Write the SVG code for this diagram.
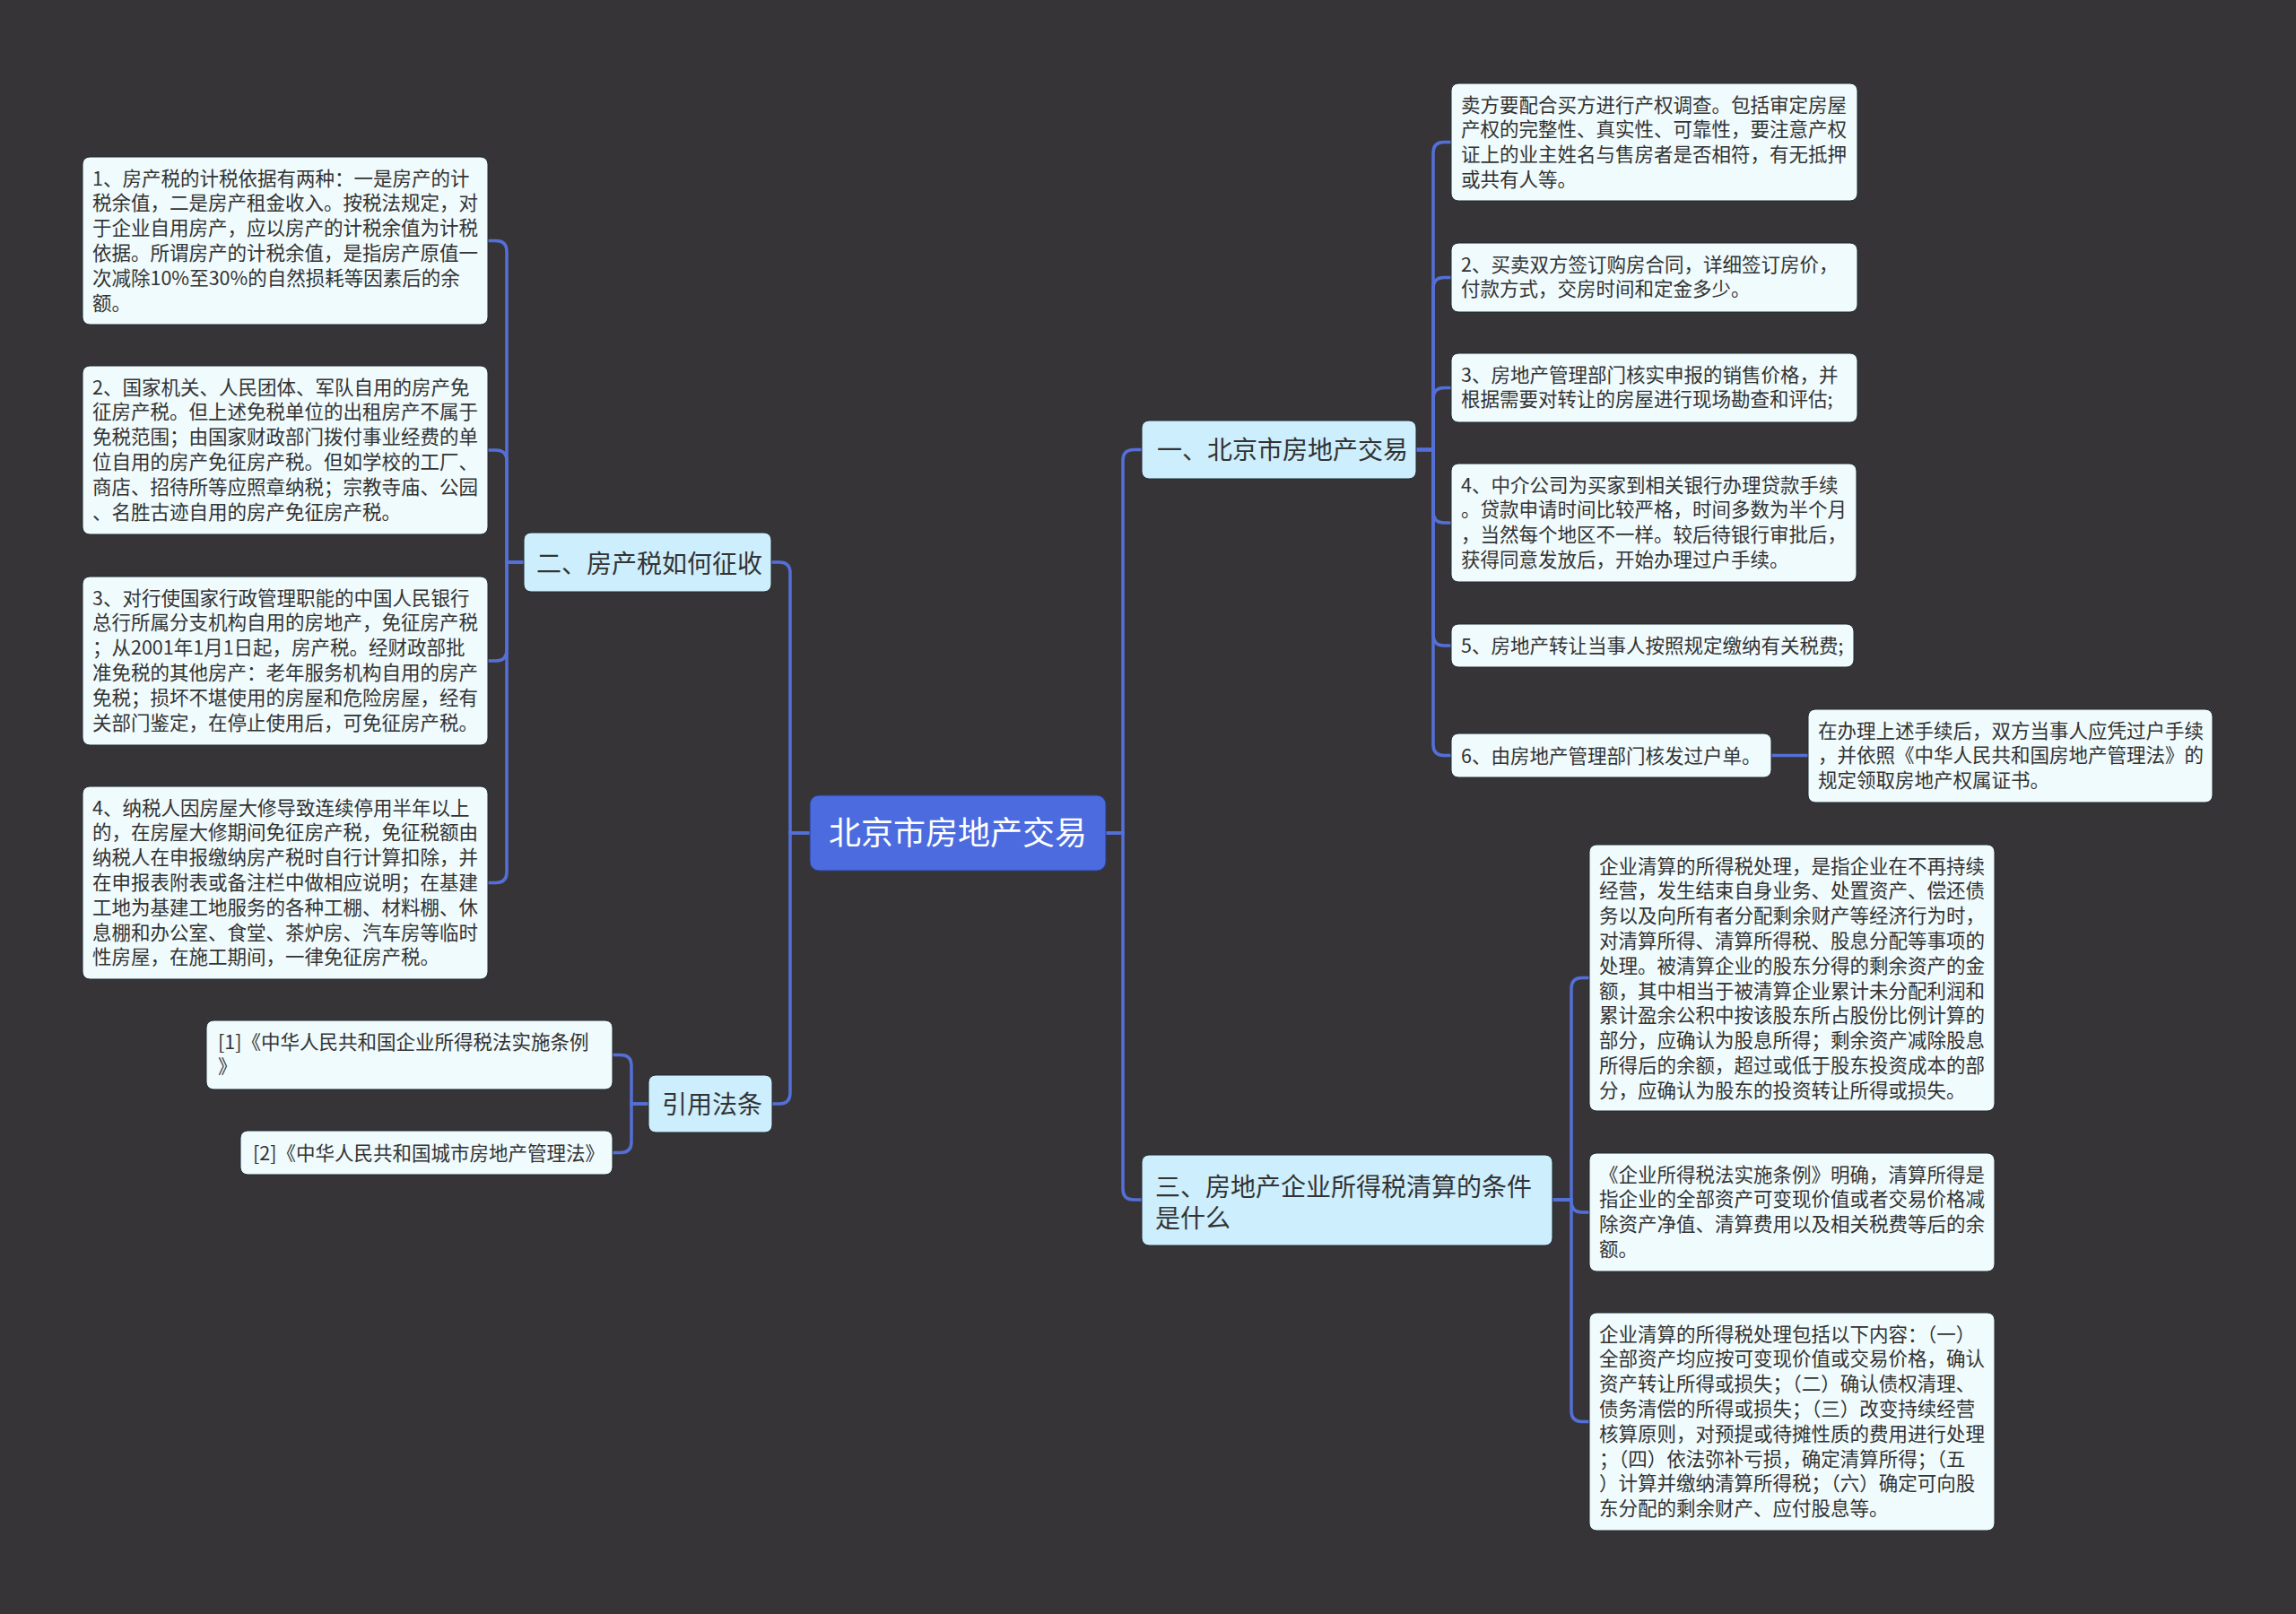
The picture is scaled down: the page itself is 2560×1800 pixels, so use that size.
<svg xmlns="http://www.w3.org/2000/svg" width="2560" height="1800" viewBox="0 0 2560 1800">
<style>
.bg{fill:#363436}
.conn{fill:none;stroke:#5470d8;stroke-width:3.5;stroke-linecap:round}
.root rect{fill:#4b6bdf;stroke:#2b3f8a;stroke-width:1}
.br rect{fill:#cdeefc;stroke:#1e2a33;stroke-width:1}
.lf rect{fill:#f0fbfd;stroke:#1e2a33;stroke-width:1}
text{font-family:"Noto Sans CJK SC","Noto Sans",sans-serif;fill:#333333}
.lf text{font-size:21.5px}
.br text{font-size:28px}
.root text{font-size:36px;fill:#ffffff}
</style>
<rect class="bg" x="0" y="0" width="2560" height="1800"/>
<g id="connectors">
<path class="conn" d="M1233,929 H1252 V513.5 Q1252,501.5 1264,501.5 H1273"/>
<path class="conn" d="M1233,929 H1252 V1326 Q1252,1338 1264,1338 H1273"/>
<path class="conn" d="M903,929 H881 V639 Q881,627 869,627 H860"/>
<path class="conn" d="M903,929 H881 V1219 Q881,1231 869,1231 H861"/>
<path class="conn" d="M584,627 H565 V280.5 Q565,268.5 553,268.5 H544"/>
<path class="conn" d="M584,627 H565 V514 Q565,502 553,502 H544"/>
<path class="conn" d="M584,627 H565 V725 Q565,737 553,737 H544"/>
<path class="conn" d="M584,627 H565 V972.5 Q565,984.5 553,984.5 H544"/>
<path class="conn" d="M1579,501.5 H1598 V170.5 Q1598,158.5 1610,158.5 H1618"/>
<path class="conn" d="M1579,501.5 H1598 V321.5 Q1598,309.5 1610,309.5 H1618"/>
<path class="conn" d="M1579,501.5 H1598 V444.5 Q1598,432.5 1610,432.5 H1618"/>
<path class="conn" d="M1579,501.5 H1598 V571 Q1598,583 1610,583 H1618"/>
<path class="conn" d="M1579,501.5 H1598 V708 Q1598,720 1610,720 H1618"/>
<path class="conn" d="M1579,501.5 H1598 V830.5 Q1598,842.5 1610,842.5 H1618"/>
<path class="conn" d="M1975,842.5 H2016"/>
<path class="conn" d="M1731,1338 H1752 V1102.5 Q1752,1090.5 1764,1090.5 H1772"/>
<path class="conn" d="M1731,1338 H1752 V1340 Q1752,1352 1764,1352 H1772"/>
<path class="conn" d="M1731,1338 H1752 V1573.5 Q1752,1585.5 1764,1585.5 H1772"/>
<path class="conn" d="M723,1231 H704 V1188.5 Q704,1176.5 692,1176.5 H683"/>
<path class="conn" d="M723,1231 H704 V1273.5 Q704,1285.5 692,1285.5 H683"/>
</g>
<g id="root" class="root">
<rect x="903" y="887" width="330" height="84" rx="10"/>
<text x="1068" y="941.5" text-anchor="middle">北京市房地产交易</text>
</g>
<g id="b1" class="br">
<rect x="1273" y="469" width="306" height="65" rx="8"/>
<text x="1290" y="512">一、北京市房地产交易</text>
</g>
<g id="b2" class="br">
<rect x="584" y="594" width="276" height="66" rx="8"/>
<text x="598" y="638.5">二、房产税如何征收</text>
</g>
<g id="b3" class="br">
<rect x="1273" y="1288" width="458" height="101" rx="8"/>
<text x="1288"><tspan x="1288" y="1333.5">三、房地产企业所得税清算的条件</tspan><tspan x="1288" y="1369">是什么</tspan></text>
</g>
<g id="b4" class="br">
<rect x="723" y="1199" width="138" height="64" rx="8"/>
<text x="738" y="1242">引用法条</text>
</g>
<g id="l1" class="lf">
<rect x="92" y="175" width="452" height="187" rx="8"/>
<text><tspan x="103" y="206.5">1、房产税的计税依据有两种：一是房产的计</tspan><tspan x="103" y="234.3">税余值，二是房产租金收入。按税法规定，对</tspan><tspan x="103" y="262.1">于企业自用房产，应以房产的计税余值为计税</tspan><tspan x="103" y="289.9">依据。所谓房产的计税余值，是指房产原值一</tspan><tspan x="103" y="317.7">次减除10%至30%的自然损耗等因素后的余</tspan><tspan x="103" y="345.5">额。</tspan></text>
</g>
<g id="l2" class="lf">
<rect x="92" y="408" width="452" height="188" rx="8"/>
<text><tspan x="103" y="439.5">2、国家机关、人民团体、军队自用的房产免</tspan><tspan x="103" y="467.3">征房产税。但上述免税单位的出租房产不属于</tspan><tspan x="103" y="495.1">免税范围；由国家财政部门拨付事业经费的单</tspan><tspan x="103" y="522.9">位自用的房产免征房产税。但如学校的工厂、</tspan><tspan x="103" y="550.7">商店、招待所等应照章纳税；宗教寺庙、公园</tspan><tspan x="103" y="578.5">、名胜古迹自用的房产免征房产税。</tspan></text>
</g>
<g id="l3" class="lf">
<rect x="92" y="643" width="452" height="188" rx="8"/>
<text><tspan x="103" y="674.5">3、对行使国家行政管理职能的中国人民银行</tspan><tspan x="103" y="702.3">总行所属分支机构自用的房地产，免征房产税</tspan><tspan x="103" y="730.1">；从2001年1月1日起，房产税。经财政部批</tspan><tspan x="103" y="757.9">准免税的其他房产：老年服务机构自用的房产</tspan><tspan x="103" y="785.7">免税；损坏不堪使用的房屋和危险房屋，经有</tspan><tspan x="103" y="813.5">关部门鉴定，在停止使用后，可免征房产税。</tspan></text>
</g>
<g id="l4" class="lf">
<rect x="92" y="877" width="452" height="215" rx="8"/>
<text><tspan x="103" y="908.5">4、纳税人因房屋大修导致连续停用半年以上</tspan><tspan x="103" y="936.3">的，在房屋大修期间免征房产税，免征税额由</tspan><tspan x="103" y="964.1">纳税人在申报缴纳房产税时自行计算扣除，并</tspan><tspan x="103" y="991.9">在申报表附表或备注栏中做相应说明；在基建</tspan><tspan x="103" y="1019.7">工地为基建工地服务的各种工棚、材料棚、休</tspan><tspan x="103" y="1047.5">息棚和办公室、食堂、茶炉房、汽车房等临时</tspan><tspan x="103" y="1075.3">性房屋，在施工期间，一律免征房产税。</tspan></text>
</g>
<g id="r1" class="lf">
<rect x="1618" y="93" width="453" height="131" rx="8"/>
<text><tspan x="1629" y="124.5">卖方要配合买方进行产权调查。包括审定房屋</tspan><tspan x="1629" y="152.3">产权的完整性、真实性、可靠性，要注意产权</tspan><tspan x="1629" y="180.1">证上的业主姓名与售房者是否相符，有无抵押</tspan><tspan x="1629" y="207.9">或共有人等。</tspan></text>
</g>
<g id="r2" class="lf">
<rect x="1618" y="271" width="453" height="77" rx="8"/>
<text><tspan x="1629" y="302.5">2、买卖双方签订购房合同，详细签订房价，</tspan><tspan x="1629" y="330.3">付款方式，交房时间和定金多少。</tspan></text>
</g>
<g id="r3" class="lf">
<rect x="1618" y="394" width="453" height="77" rx="8"/>
<text><tspan x="1629" y="425.5">3、房地产管理部门核实申报的销售价格，并</tspan><tspan x="1629" y="453.3">根据需要对转让的房屋进行现场勘查和评估;</tspan></text>
</g>
<g id="r4" class="lf">
<rect x="1618" y="517" width="452" height="132" rx="8"/>
<text><tspan x="1629" y="548.5">4、中介公司为买家到相关银行办理贷款手续</tspan><tspan x="1629" y="576.3">。贷款申请时间比较严格，时间多数为半个月</tspan><tspan x="1629" y="604.1">，当然每个地区不一样。较后待银行审批后，</tspan><tspan x="1629" y="631.9">获得同意发放后，开始办理过户手续。</tspan></text>
</g>
<g id="r5" class="lf">
<rect x="1618" y="696" width="449" height="48" rx="8"/>
<text x="1629" y="728">5、房地产转让当事人按照规定缴纳有关税费;</text>
</g>
<g id="r6" class="lf">
<rect x="1618" y="818" width="357" height="49" rx="8"/>
<text x="1629" y="850.5">6、由房地产管理部门核发过户单。</text>
</g>
<g id="r6a" class="lf">
<rect x="2016" y="791" width="451" height="104" rx="8"/>
<text><tspan x="2027" y="822.5">在办理上述手续后，双方当事人应凭过户手续</tspan><tspan x="2027" y="850.3">，并依照《中华人民共和国房地产管理法》的</tspan><tspan x="2027" y="878.1">规定领取房地产权属证书。</tspan></text>
</g>
<g id="s1" class="lf">
<rect x="1772" y="942" width="452" height="297" rx="8"/>
<text><tspan x="1783" y="973.5">企业清算的所得税处理，是指企业在不再持续</tspan><tspan x="1783" y="1001.3">经营，发生结束自身业务、处置资产、偿还债</tspan><tspan x="1783" y="1029.1">务以及向所有者分配剩余财产等经济行为时，</tspan><tspan x="1783" y="1056.9">对清算所得、清算所得税、股息分配等事项的</tspan><tspan x="1783" y="1084.7">处理。被清算企业的股东分得的剩余资产的金</tspan><tspan x="1783" y="1112.5">额，其中相当于被清算企业累计未分配利润和</tspan><tspan x="1783" y="1140.3">累计盈余公积中按该股东所占股份比例计算的</tspan><tspan x="1783" y="1168.1">部分，应确认为股息所得；剩余资产减除股息</tspan><tspan x="1783" y="1195.9">所得后的余额，超过或低于股东投资成本的部</tspan><tspan x="1783" y="1223.7">分，应确认为股东的投资转让所得或损失。</tspan></text>
</g>
<g id="s2" class="lf">
<rect x="1772" y="1286" width="452" height="132" rx="8"/>
<text><tspan x="1783" y="1317.5">《企业所得税法实施条例》明确，清算所得是</tspan><tspan x="1783" y="1345.3">指企业的全部资产可变现价值或者交易价格减</tspan><tspan x="1783" y="1373.1">除资产净值、清算费用以及相关税费等后的余</tspan><tspan x="1783" y="1400.9">额。</tspan></text>
</g>
<g id="s3" class="lf">
<rect x="1772" y="1464" width="452" height="243" rx="8"/>
<text><tspan x="1783" y="1495.5">企业清算的所得税处理包括以下内容：（一）</tspan><tspan x="1783" y="1523.3">全部资产均应按可变现价值或交易价格，确认</tspan><tspan x="1783" y="1551.1">资产转让所得或损失；（二）确认债权清理、</tspan><tspan x="1783" y="1578.9">债务清偿的所得或损失；（三）改变持续经营</tspan><tspan x="1783" y="1606.7">核算原则，对预提或待摊性质的费用进行处理</tspan><tspan x="1783" y="1634.5">；（四）依法弥补亏损，确定清算所得；（五</tspan><tspan x="1783" y="1662.3">）计算并缴纳清算所得税；（六）确定可向股</tspan><tspan x="1783" y="1690.1">东分配的剩余财产、应付股息等。</tspan></text>
</g>
<g id="c1" class="lf">
<rect x="230" y="1138" width="453" height="77" rx="8"/>
<text><tspan x="243" y="1169.5">[1]《中华人民共和国企业所得税法实施条例</tspan><tspan x="243" y="1197.3">》</tspan></text>
</g>
<g id="c2" class="lf">
<rect x="268" y="1261" width="415" height="49" rx="8"/>
<text x="282" y="1293.5">[2]《中华人民共和国城市房地产管理法》</text>
</g>
</svg>
